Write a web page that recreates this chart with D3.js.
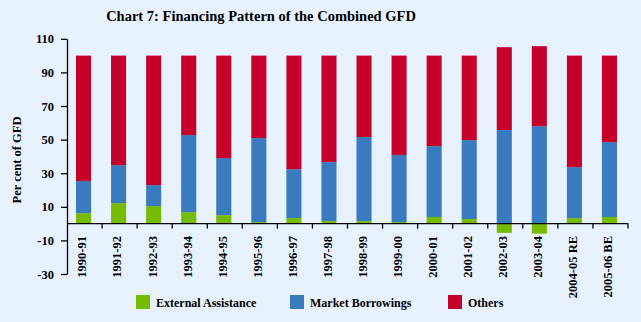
<!DOCTYPE html>
<html>
<head>
<meta charset="utf-8">
<script src="https://d3js.org/d3.v7.min.js"></script>
<style>
  html, body { margin: 0; padding: 0; background: #e8f2fe; }
  svg { display: block; font-family: "Liberation Serif", "Times New Roman", serif; font-weight: bold; }
  .axis path, .axis line { stroke: #000; stroke-width: 1.3; }
  .axis text { font-size: 12.5px; font-weight: bold; font-family: "Liberation Serif", serif; fill: #000; }
</style>
</head>
<body>
<div id="chart"></div>
<script>
// financing shares, per cent of GFD
const years = ["1990-91", "1991-92", "1992-93", "1993-94", "1994-95", "1995-96", "1996-97", "1997-98",
  "1998-99", "1999-00", "2000-01", "2001-02", "2002-03", "2003-04", "2004-05 RE", "2005-06 BE"];
const externalAssistance = [6.2, 12.2, 10.4, 6.8, 5.0, 0.9, 3.3, 1.5, 1.5, 0.9, 3.9, 2.7, -5.5, -6.0, 3.3, 3.9];
const marketBorrowings = [19.1, 22.6, 12.5, 45.9, 34.0, 50.0, 29.1, 35.1, 50.0, 39.9, 42.2, 47.0, 55.7, 58.0, 30.3, 44.6];
const others = [74.7, 65.2, 77.1, 47.3, 61.0, 49.1, 67.6, 63.4, 48.5, 59.2, 53.9, 50.3, 49.3, 47.6, 66.4, 51.5];
const seriesNames = ["External Assistance", "Market Borrowings", "Others"];
const seriesColors = ["#77bb00", "#3a7abf", "#c5002b"];
const yTicks = [-30, -10, 10, 30, 50, 70, 90, 110];

const W = 641, H = 322;
const svg = d3.select("#chart").append("svg").attr("width", W).attr("height", H);

const rows = years.map((yr, i) => ({
  year: yr,
  "External Assistance": externalAssistance[i],
  "Market Borrowings": marketBorrowings[i],
  "Others": others[i]
}));

const x = d3.scaleBand().domain(years).range([67, 628]).paddingInner(0.57).paddingOuter(0.285);
const y = d3.scaleLinear().domain([-30, 110]).range([274, 38.8]);
const color = d3.scaleOrdinal(seriesNames, seriesColors);

const stack = d3.stack().keys(seriesNames).offset(d3.stackOffsetDiverging);
const layers = stack(rows);

// title
svg.append("text")
  .attr("x", 261).attr("y", 21)
  .attr("text-anchor", "middle")
  .style("font-size", "14.5px")
  .text("Chart 7: Financing Pattern of the Combined GFD");

// bars
svg.append("g").selectAll("g")
  .data(layers)
  .join("g")
  .attr("fill", d => color(d.key))
  .selectAll("rect")
  .data(d => d)
  .join("rect")
  .attr("x", d => x(d.data.year) - 1)
  .attr("width", x.bandwidth())
  .attr("y", d => y(Math.max(d[0], d[1])))
  .attr("height", d => Math.abs(y(d[0]) - y(d[1])));

// y axis
svg.append("g").attr("class", "axis")
  .attr("transform", "translate(67,0)")
  .call(d3.axisLeft(y).tickValues(yTicks).tickFormat(d => String(d))
    .tickSize(6).tickPadding(7).tickSizeOuter(0));

// x axis on zero line, ticks at category boundaries
const xAxisG = svg.append("g").attr("class", "axis");
xAxisG.append("line")
  .attr("x1", 67).attr("x2", 628)
  .attr("y1", y(0)).attr("y2", y(0));
const step = x.step();
const bounds = d3.range(1, years.length + 1).map(i => 67 + i * step);
xAxisG.selectAll("line.tick")
  .data(bounds)
  .join("line")
  .attr("class", "tick")
  .attr("x1", d => d).attr("x2", d => d)
  .attr("y1", y(0)).attr("y2", y(0) + 5);

xAxisG.selectAll("text")
  .data(years)
  .join("text")
  .attr("transform", d => `translate(${x(d) + x.bandwidth() / 2 - 2.5},236) rotate(-90)`)
  .attr("text-anchor", "end")
  .attr("dy", "0.35em")
  .text(d => d);

// y axis title
svg.append("text")
  .attr("transform", "translate(17,160) rotate(-90)")
  .attr("text-anchor", "middle")
  .attr("dy", "0.35em")
  .style("font-size", "12.5px")
  .text("Per cent of GFD");

// legend
const legendX = [136, 290, 448];
const legend = svg.append("g").selectAll("g")
  .data(seriesNames)
  .join("g")
  .attr("transform", (d, i) => `translate(${legendX[i]},295)`);
legend.append("rect")
  .attr("width", 14).attr("height", 14)
  .attr("fill", d => color(d));
legend.append("text")
  .attr("x", 20).attr("y", 12)
  .style("font-size", "12px")
  .text(d => d);
</script>
</body>
</html>
